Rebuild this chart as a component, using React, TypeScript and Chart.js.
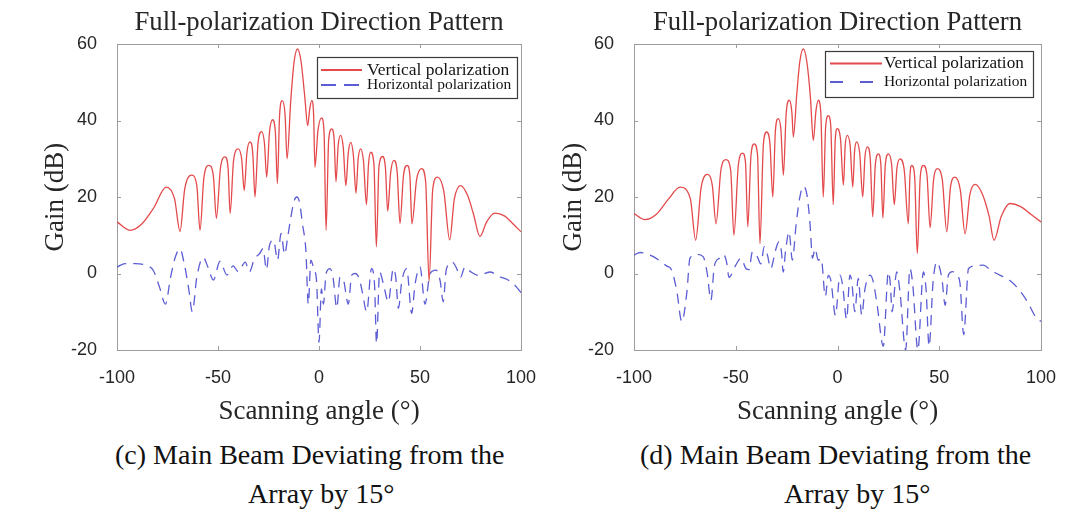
import React, { useEffect, useRef } from 'react';
import { Chart, registerables } from 'chart.js';

Chart.register(...registerables);

// ---------- text ----------
const CHART_TITLE = 'Full-polarization Direction Pattern';
const X_TITLE = 'Scanning angle (°)';
const Y_TITLE = 'Gain (dB)';
const SERIES_LABELS = ['Vertical polarization', 'Horizontal polarization'];
const CAPTION_C = ['(c) Main Beam Deviating from the', 'Array by 15°'];
const CAPTION_D = ['(d) Main Beam Deviating from the', 'Array by 15°'];

// ---------- axes ----------
const X_TICKS = [-100, -50, 0, 50, 100];
const Y_TICKS = [-20, 0, 20, 40, 60];

// ---------- panel (c) ----------
const cVerticalAngle = [
  -100, -93.6, -88, -82, -75.6, -71.5, -68.8, -66.5, -63, -60.5,
  -58.9, -57, -54.5, -52.3, -50.8, -48.8, -46.5, -45, -44, -42.3,
  -40, -38.3, -37, -35.7, -34.2, -32.8, -31.7, -30.2, -28.4, -27,
  -25.9, -24.5, -23, -21.6, -20.6, -19.5, -18.2, -16.8, -15.8, -14,
  -12.3, -10.6, -8.9, -7, -5.6, -4.6, -3.6, -2.7, -2, -0.5,
  1.3, 2.5, 3.5, 4.8, 6.3, 7.5, 8.4, 9.5, 10.7, 12,
  13.3, 14.5, 15.7, 17, 18.3, 19.4, 20.6, 22, 23.5, 24.5,
  25.6, 27.2, 28.4, 29.7, 31.5, 32.9, 34, 35.5, 37.1, 38.7,
  40.1, 41.8, 43.7, 45, 46, 48.3, 50.8, 52.8, 54.5, 56.3,
  58.6, 61.8, 64.7, 67, 70.1, 73.5, 76.5, 79.7, 83, 87,
  92, 96, 100,
];
const cVerticalGain = [
  13.5, 11.3, 12.8, 17, 22.6, 19.5, 11, 22, 25.7, 23,
  11.3, 25, 28.3, 25.5, 14.4, 27.5, 30.5, 27.5, 15.7, 29.5,
  32.6, 30, 21.7, 31.5, 34.4, 31.5, 20, 34, 37.1, 34,
  25.2, 37, 40.2, 37, 23.5, 41.5, 45.2, 41.5, 30, 45,
  55.5, 58.7, 55.5, 46, 38.7, 43, 45.2, 42, 27.8, 37.5,
  40.7, 37, 11.3, 35, 37.8, 35, 24, 33.5, 36.1, 33,
  23, 31.5, 34.3, 31, 21, 30, 32.6, 29.5, 18, 28.5,
  31.7, 28.5, 7, 28, 30.6, 27.5, 16.3, 26.5, 29.6, 26.5,
  13.1, 25.5, 28.3, 25.5, 13, 24.5, 27.4, 24, -2, 22,
  25.2, 21.5, 8.8, 19.5, 23, 20.5, 15.5, 9.7, 13.5, 15.8,
  15, 13, 10.9,
];
const cHorizontalAngle = [
  -100, -96, -91, -85, -82, -79, -76, -73.5, -71, -68.8,
  -66.5, -64.5, -62.7, -60.5, -57.3, -55, -52.3, -49, -45.6, -42.5,
  -40, -36.5, -34.5, -31.9, -29.4, -27.7, -26, -24.5, -22.5, -20.5,
  -18.8, -17, -15.5, -14, -12.3, -11, -9.6, -8.2, -6.5, -5.3,
  -4, -2.5, -1.2, 0, 1.2, 2.2, 3.5, 5.5, 7, 8.8,
  10.4, 12, 14.5, 16.2, 18, 20, 21.5, 23.6, 26, 27.5,
  28.5, 30, 32, 34.3, 36.8, 38, 39.3, 41, 43.4, 45.9,
  47.5, 50, 52.5, 55, 58, 60, 61.5, 63, 66, 68,
  70, 72.3, 75, 79, 84.6, 89.6, 93, 96.5, 100,
];
const cHorizontalGain = [
  1.7, 2.6, 2.6, 2, 0.8, -3.5, -8, -1, 4.5, 6.4,
  2, -4, -10, -1, 4.2, 1.7, -1.7, 3.2, -0.4, 2,
  0.5, 3, 0.4, 3.9, 5.2, 6.5, 1, 7.4, 8.7, 3.5,
  10.5, 5, 9.5, 14.5, 19, 20, 18.5, 13, 6, -8,
  3.5, 1, -2, -18, -4, -8, 0, 1.3, -1.3, -9,
  -1, -1.5, -8, -0.4, 0, -1.5, -5, -10, 1.3, -3,
  -18.3, 0.4, -3, -7.4, 1.3, -1, -9.1, -2, 1.3, -10.4,
  -3, 1.7, -8, 0, 0.9, -2, -7.4, 1, 3, 1.5,
  -1, 1.7, 0.5, -0.5, 0.4, -0.9, -1.5, -2.8, -5,
];

// ---------- panel (d) ----------
const dVerticalAngle = [
  -100, -94.6, -89, -83, -77.4, -72.3, -69.7, -67, -64, -61.5,
  -59.7, -57.3, -54.8, -52.5, -50.9, -48.7, -46.6, -45.2, -44.1, -42.5,
  -40.9, -39.3, -38.1, -36.4, -34.8, -33.2, -31.8, -30.5, -29.1, -27.8,
  -26.6, -25.2, -23.7, -22.4, -21.7, -20, -18.5, -16.8, -15.1, -13.3,
  -11.9, -10.6, -9.4, -8.2, -7, -5.8, -4.5, -3.3, -2.1, -1.1,
  -0.1, 1.5, 2.9, 3.8, 4.8, 6.2, 7.5, 8.4, 9.4, 10.9,
  12.4, 13.5, 14.7, 16.1, 17.3, 18.6, 20.1, 21.3, 22.3, 23.5,
  25, 26.6, 27.9, 29.2, 30.7, 32.8, 34.8, 35.6, 36.5, 37.9,
  39.2, 40.7, 42.2, 44, 45.5, 47.2, 49, 51.5, 53.7, 55.5,
  57.7, 60.3, 62.7, 65, 67.6, 71, 74.5, 76.9, 80.5, 84.8,
  90, 95, 100,
];
const dVerticalGain = [
  15.7, 14.1, 15.5, 19.5, 22.6, 19.5, 8.7, 22.5, 25.9, 23,
  13, 27, 29.8, 27, 10, 28.5, 31.5, 29, 12.2, 31,
  33.9, 31, 7.8, 34, 37, 34, 20, 37.5, 40.5, 37.5,
  25.7, 42, 45.3, 42, 35.7, 47, 55.5, 58.7, 55.5, 46,
  34.8, 42.5, 45.3, 42, 20, 38.5, 41.3, 38.5, 18, 35,
  37.9, 35, 23.1, 33.5, 36.1, 33.5, 22.6, 32, 34.4, 31.5,
  20, 30.5, 33.1, 30, 14.8, 28.5, 31.3, 28.5, 14.5, 28.5,
  31.3, 28.5, 18, 27.5, 30, 27, 13, 25.5, 28.3, 25.5,
  5.2, 25.5, 28.3, 25.5, 12, 24.5, 27.4, 24.5, 10.9, 22.5,
  25.2, 22, 10.4, 20.5, 23.3, 21, 15, 8.7, 15, 18.3,
  17.5, 15.5, 13.5,
];
const dHorizontalAngle = [
  -100, -97, -93, -90.5, -84, -81.5, -79, -76.5, -74, -72.5,
  -69, -66, -64, -62.2, -60.5, -58, -56, -54.5, -53.3, -50,
  -47.5, -45, -43.5, -41.8, -39.5, -37.7, -36, -34.5, -32.8, -30.5,
  -28.8, -27.5, -26.7, -25.5, -23.8, -22.2, -20.3, -18.5, -16.8, -15,
  -13.5, -12.3, -11, -9.5, -8, -6, -4.5, -3.2, -1, 1.2,
  2.5, 4.5, 6.1, 7, 8.5, 10.2, 11.9, 13.5, 16, 17.6,
  19.5, 22.5, 25, 26, 26.8, 29.1, 30.7, 33.5, 35.6, 37,
  39.5, 42.2, 43.5, 45, 47, 48.8, 51.3, 52.9, 54.5, 56.5,
  58.6, 60.2, 62, 64.4, 68, 71.7, 75, 78.2, 82, 85.6,
  88, 92.9, 97.8, 100,
];
const dHorizontalGain = [
  4.8, 5.5, 5, 4.4, 2, 0.9, -4.5, -12.6, -4.8, 4,
  5, 4.4, 0, -7, 2, 4, 5, 3, -1, 2.2,
  4, 1.3, 1, 5.7, 4.5, 2.5, 7, 5, 1.3, 6,
  8.3, 5.5, 0.4, 6, 10.9, 3.5, 13, 20, 22.8, 20.5,
  13, 4, 6.5, 3.5, 3.9, -6, -0.5, -2, -11, -0.4,
  -3, -12, -0.4, -2, -10, -1.3, -10.9, -4, -0.4, -2.2,
  -8.3, -19, 0.4, -3, -10, 0.4, -4.8, -20, 1.3, -3,
  -20, 0.4, -4, -19, -2, 3, -1.3, -8.3, -0.4, 0.5,
  -0.4, -2.6, -16, 1.3, 2, 2.2, 1, 0, -1, -2.2,
  -3.5, -7, -11.7, -12.5,
];

// ---------- styles ----------
const RED = 'rgb(228, 74, 76)';
const BLUE = 'rgb(92, 92, 212)';
const TEXT = '#262626';
const SERIF = '"Liberation Serif", "Times New Roman", serif';
const SANS = '"Liberation Sans", Arial, sans-serif';

const frameTicksPlugin = {
  id: 'frameTicks',
  beforeDatasetsDraw(chart: any, _args: any, opts: any) {
    const { ctx, chartArea: a, scales } = chart;
    const L = opts.len || 4;
    ctx.save();
    ctx.strokeStyle = opts.color || '#9a9a9a';
    ctx.lineWidth = 1;
    ctx.beginPath();
    const xs = scales.x;
    const ys = scales.y;
    xs.ticks.forEach((t: any) => {
      const p = Math.round(xs.getPixelForValue(t.value)) + 0.5;
      ctx.moveTo(p, a.bottom);
      ctx.lineTo(p, a.bottom - L);
      ctx.moveTo(p, a.top);
      ctx.lineTo(p, a.top + L);
    });
    ys.ticks.forEach((t: any) => {
      const p = Math.round(ys.getPixelForValue(t.value)) + 0.5;
      ctx.moveTo(a.left, p);
      ctx.lineTo(a.left + L, p);
      ctx.moveTo(a.right, p);
      ctx.lineTo(a.right - L, p);
    });
    ctx.stroke();
    ctx.strokeRect(
      Math.round(a.left) + 0.5,
      Math.round(a.top) + 0.5,
      Math.round(a.right - a.left),
      Math.round(a.bottom - a.top)
    );
    ctx.restore();
  },
};

const insideLegendPlugin = {
  id: 'insideLegend',
  afterDatasetsDraw(chart: any, _args: any, opts: any) {
    const { ctx } = chart;
    const b = opts.box;
    ctx.save();
    ctx.fillStyle = '#ffffff';
    ctx.fillRect(b.x, b.y, b.w, b.h);
    ctx.strokeStyle = '#3a3a3a';
    ctx.lineWidth = 1.2;
    ctx.strokeRect(b.x + 0.5, b.y + 0.5, b.w, b.h);
    chart.data.datasets.forEach((ds: any, i: number) => {
      const row = opts.rows[i];
      ctx.strokeStyle = ds.borderColor;
      ctx.lineWidth = 2;
      ctx.setLineDash(row.dash || []);
      ctx.beginPath();
      ctx.moveTo(opts.lineX1, row.y);
      ctx.lineTo(opts.lineX2, row.y);
      ctx.stroke();
      ctx.setLineDash([]);
      ctx.fillStyle = '#151515';
      ctx.font = `${row.size}px ${SERIF}`;
      ctx.textBaseline = 'middle';
      ctx.textAlign = 'left';
      ctx.fillText(ds.label, opts.textX, row.y);
    });
    ctx.restore();
  },
};

type PanelProps = {
  left: number;
  vAngle: number[];
  vGain: number[];
  hAngle: number[];
  hGain: number[];
  areaLeft: number;
  areaRight: number;
  yTitlePad: number;
  legend: any;
};

const CANVAS_W = 540;
const CANVAS_H = 430;

function Panel(props: PanelProps) {
  const ref = useRef<HTMLCanvasElement | null>(null);

  useEffect(() => {
    if (!ref.current) return;
    const toPoints = (xs: number[], ys: number[]) => xs.map((x, i) => ({ x, y: ys[i] }));
    const chart = new Chart(ref.current, {
      type: 'line',
      data: {
        datasets: [
          {
            label: SERIES_LABELS[0],
            data: toPoints(props.vAngle, props.vGain),
            borderColor: RED,
            borderWidth: 1.3,
            pointRadius: 0,
            cubicInterpolationMode: 'monotone',
            fill: false,
          },
          {
            label: SERIES_LABELS[1],
            data: toPoints(props.hAngle, props.hGain),
            borderColor: BLUE,
            borderWidth: 1.3,
            borderDash: [10, 7],
            pointRadius: 0,
            cubicInterpolationMode: 'monotone',
            fill: false,
          },
        ],
      },
      options: {
        animation: false,
        responsive: false,
        maintainAspectRatio: false,
        events: [],
        layout: { padding: { left: 0, right: CANVAS_W - props.areaRight, top: 0, bottom: 0 } },
        scales: {
          x: {
            type: 'linear',
            min: -100,
            max: 100,
            afterBuildTicks: (s: any) => {
              s.ticks = X_TICKS.map((value) => ({ value }));
            },
            afterFit: (s: any) => {
              s.height = CANVAS_H - 350;
              s.paddingLeft = 0;
              s.paddingRight = 0;
            },
            grid: { display: false },
            border: { display: false },
            ticks: {
              autoSkip: false,
              maxRotation: 0,
              padding: 9,
              color: TEXT,
              font: { family: SANS, size: 18 },
            },
            title: {
              display: true,
              text: X_TITLE,
              color: TEXT,
              font: { family: SERIF, size: 27 },
              padding: { top: 0, bottom: 2 },
            },
          },
          y: {
            type: 'linear',
            min: -20,
            max: 60,
            afterBuildTicks: (s: any) => {
              s.ticks = Y_TICKS.map((value) => ({ value }));
            },
            afterFit: (s: any) => {
              s.width = props.areaLeft;
            },
            grid: { display: false },
            border: { display: false },
            ticks: {
              padding: 12,
              color: TEXT,
              font: { family: SANS, size: 18 },
            },
            title: {
              display: true,
              text: Y_TITLE,
              color: TEXT,
              font: { family: SERIF, size: 27 },
              padding: { top: props.yTitlePad, bottom: 0 },
            },
          },
        },
        plugins: {
          legend: { display: false },
          tooltip: { enabled: false },
          title: {
            display: true,
            text: CHART_TITLE,
            fullSize: false,
            color: TEXT,
            font: { family: SERIF, size: 26.7, weight: 'normal' },
            padding: { top: 7, bottom: 5 },
          },
          frameTicks: { len: 4, color: '#9c9c9c' },
          insideLegend: props.legend,
        } as any,
      },
      plugins: [frameTicksPlugin, insideLegendPlugin],
    } as any);
    return () => chart.destroy();
  }, []);

  return (
    <canvas
      ref={ref}
      width={CANVAS_W}
      height={CANVAS_H}
      style={{ position: 'absolute', left: props.left, top: 0, width: CANVAS_W, height: CANVAS_H }}
    />
  );
}

const captionStyle: React.CSSProperties = {
  position: 'absolute',
  fontFamily: SERIF,
  fontSize: 28,
  lineHeight: '30px',
  color: '#111',
  whiteSpace: 'nowrap',
};

export default function App() {
  return (
    <div
      style={{
        position: 'fixed',
        left: 0,
        top: 0,
        width: 1080,
        height: 526,
        background: '#ffffff',
        overflow: 'hidden',
      }}
    >
      <Panel
        left={0}
        vAngle={cVerticalAngle}
        vGain={cVerticalGain}
        hAngle={cHorizontalAngle}
        hGain={cHorizontalGain}
        areaLeft={117}
        areaRight={521}
        yTitlePad={40}
        legend={{
          box: { x: 317, y: 57, w: 200, h: 41 },
          lineX1: 321,
          lineX2: 362,
          textX: 367,
          rows: [
            { y: 70, size: 17.5, dash: [] },
            { y: 85, size: 15.5, dash: [15, 8] },
          ],
        }}
      />
      <Panel
        left={540}
        vAngle={dVerticalAngle}
        vGain={dVerticalGain}
        hAngle={dHorizontalAngle}
        hGain={dHorizontalGain}
        areaLeft={94}
        areaRight={501}
        yTitlePad={18}
        legend={{
          box: { x: 285, y: 51, w: 208, h: 46 },
          lineX1: 290,
          lineX2: 342,
          textX: 344,
          rows: [
            { y: 63.5, size: 17.2, dash: [] },
            { y: 82, size: 15.4, dash: [13, 17] },
          ],
        }}
      />
      <div style={{ ...captionStyle, left: 115, top: 440 }}>{CAPTION_C[0]}</div>
      <div style={{ ...captionStyle, left: 248, top: 479 }}>{CAPTION_C[1]}</div>
      <div style={{ ...captionStyle, left: 640, top: 440 }}>{CAPTION_D[0]}</div>
      <div style={{ ...captionStyle, left: 784, top: 479 }}>{CAPTION_D[1]}</div>
    </div>
  );
}
